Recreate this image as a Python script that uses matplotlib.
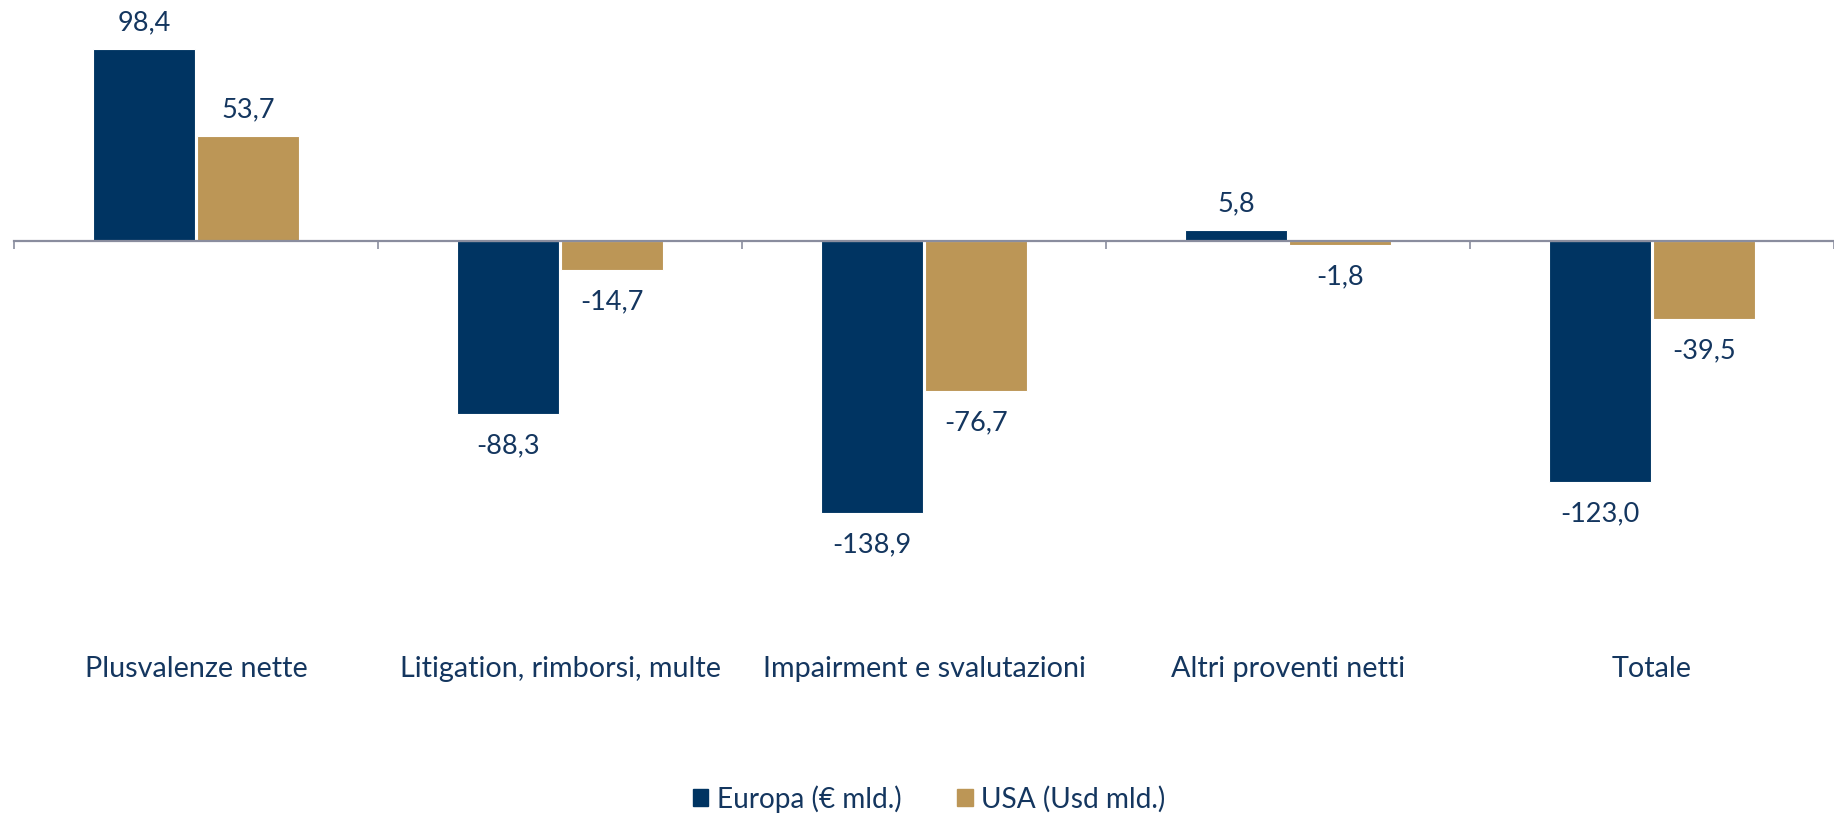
import matplotlib
matplotlib.use("Agg")
import matplotlib.pyplot as plt
import numpy as np
from matplotlib.patches import Patch
import matplotlib.transforms as mtransforms

categories = ["Plusvalenze nette", "Litigation, rimborsi, multe",
              "Impairment e svalutazioni", "Altri proventi netti", "Totale"]
europa = [98.4, -88.3, -138.9, 5.8, -123.0]
usa = [53.7, -14.7, -76.7, -1.8, -39.5]
series_names = ["Europa (€ mld.)", "USA (Usd mld.)"]

BLUE = "#003462"
GOLD = "#BC9656"
TEXT = "#14365F"
AXIS = "#8A8D9E"

plt.rcParams["font.family"] = ["Lato", "DejaVu Sans"]

W, H = 1834, 814
fig = plt.figure(figsize=(W / 100, H / 100), dpi=100)
top_px, bot_px = 0, 554
ax = fig.add_axes([14 / W, 1 - bot_px / H, 1 - 14 / W, (bot_px - top_px) / H])
ax.set_xlim(-0.5, 4.5)
ax.set_ylim(-160, 123.5)

x = np.arange(len(categories))
bw = 0.28
off = 0.143
b1 = ax.bar(x - off, europa, bw, color=BLUE, edgecolor="white", linewidth=0.8, zorder=2)
b2 = ax.bar(x + off, usa, bw, color=GOLD, edgecolor="white", linewidth=0.8, zorder=2)

def fmt(v):
    return f"{v:.1f}".replace(".", ",")

for bars, vals in ((b1, europa), (b2, usa)):
    for rect, v in zip(bars, vals):
        cx = rect.get_x() + rect.get_width() / 2
        dy = 19 if v >= 0 else -23
        ax.annotate(fmt(v), (cx, v), xytext=(0, dy), textcoords="offset points",
                    ha="center", va="center", fontsize=19.5, color=TEXT)

for s in ["top", "right", "left"]:
    ax.spines[s].set_visible(False)
ax.spines["bottom"].set_position(("data", 0))
ax.spines["bottom"].set_color(AXIS)
ax.spines["bottom"].set_linewidth(1.6)
ax.spines["bottom"].set_zorder(3)
ax.set_yticks([])
ax.set_xticks(x)
ax.set_xticklabels([])
ax.tick_params(axis="x", which="major", length=0)
ax.set_xticks(np.arange(-0.5, 5.0, 1.0), minor=True)
ax.tick_params(axis="x", which="minor", length=6, width=1.2, color=AXIS, direction="out")

trans = mtransforms.blended_transform_factory(ax.transData, fig.transFigure)
for i, c in enumerate(categories):
    ax.text(i, 1 - 669 / H, c, transform=trans, ha="center", va="center",
            fontsize=20.7, color=TEXT)

handles = [Patch(facecolor=BLUE, edgecolor=BLUE), Patch(facecolor=GOLD, edgecolor=GOLD)]
fig.legend(handles, series_names, loc="center", bbox_to_anchor=(929 / W, 1 - 799 / H),
           ncol=2, frameon=False, fontsize=20.2, labelcolor=TEXT,
           handlelength=0.55, handleheight=0.55, handletextpad=0.3, columnspacing=2.0)

fig.savefig("out.png", dpi=100)
